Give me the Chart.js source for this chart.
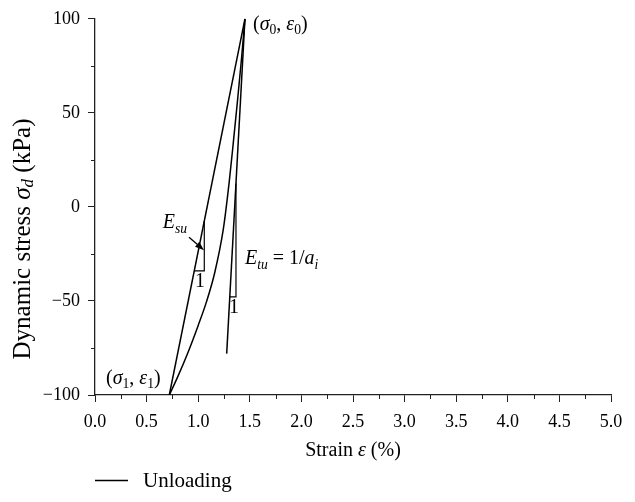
<!DOCTYPE html>
<html><head><meta charset="utf-8">
<script src="https://cdn.jsdelivr.net/npm/chart.js@4/dist/chart.umd.min.js"></script>
<style>html,body{margin:0;padding:0;background:#fff}</style>
</head><body>
<canvas id="c" width="635" height="502"></canvas>
<script>
// ---- data ----
const unloadStrain = [0.720, 0.800, 0.900, 1.000, 1.080, 1.160, 1.243, 1.300, 1.340, 1.380, 1.420, 1.453];
const unloadStress = [-100, -90.5, -77.5, -63.0, -50.5, -35.0, -12.0, 13.0, 34.0, 56.0, 79.0, 100];
const secantStrain = [0.720, 1.453];
const secantStress = [-100, 100];
const tangentStrain = [1.276, 1.453];
const tangentStress = [-78, 100];
const esuTriStrain = [0.962, 1.059, 1.059];
const esuTriStress = [-34, -34, -7.5];
const etuTriStrain = [1.306, 1.366, 1.366];
const etuTriStress = [-47.8, -47.8, 12.5];
const arrowStrain = [0.911, 1.056];
const arrowStress = [-16.1, -23.0];
const xMajorTicks = [0, 0.5, 1, 1.5, 2, 2.5, 3, 3.5, 4, 4.5, 5];
const yMajorTicks = [-100, -50, 0, 50, 100];
const xMinorStep = 0.25;
const yMinorStep = 25;
const seriesLabel = 'Unloading';
const xTitle = [['Strain ', 'n'], ['ε', 'i'], [' (%)', 'n']];
const yTitle = [['Dynamic stress ', 'n'], ['σ', 'i'], ['d', 'isub'], [' (kPa)', 'n']];
const annotations = [
  {segs: [['(', 'n'], ['σ', 'i'], ['0', 'sub'], [', ', 'n'], ['ε', 'i'], ['0', 'sub'], [')', 'n']], x: 1.531, y: 94.2, align: 'left'},
  {segs: [['(', 'n'], ['σ', 'i'], ['1', 'sub'], [', ', 'n'], ['ε', 'i'], ['1', 'sub'], [')', 'n']], x: 0.107, y: -94.2, align: 'left'},
  {segs: [['E', 'i'], ['su', 'isub']], x: 0.656, y: -11.3, align: 'left'},
  {segs: [['1', 'n']], x: 1.017, y: -42.8, align: 'center'},
  {segs: [['E', 'i'], ['tu', 'isub'], [' = 1/', 'n'], ['a', 'i'], ['i', 'isub']], x: 1.453, y: -30.5, align: 'left'},
  {segs: [['1', 'n']], x: 1.347, y: -56.6, align: 'center'}
];

const FAM = '"Liberation Serif", "DejaVu Serif", serif';
const INK = '#000';
const AXIS = '#222';

function pts(xs, ys) { return xs.map((x, i) => ({x: x, y: ys[i]})); }

function fontFor(style, size) {
  const sub = style === 'sub' || style === 'isub';
  const it = style === 'i' || style === 'isub';
  return (it ? 'italic ' : '') + (sub ? size * 0.68 : size) + 'px ' + FAM;
}
function richWidth(ctx, segs, size) {
  let w = 0;
  for (const [t, s] of segs) { ctx.font = fontFor(s, size); w += ctx.measureText(t).width; }
  return w;
}
function drawRich(ctx, segs, x, y, size, align) {
  const w = richWidth(ctx, segs, size);
  let cx = align === 'center' ? x - w / 2 : x;
  ctx.textAlign = 'left';
  for (const [t, s] of segs) {
    ctx.font = fontFor(s, size);
    const sub = s === 'sub' || s === 'isub';
    ctx.fillText(t, cx, y + (sub ? size * 0.22 : 0));
    cx += ctx.measureText(t).width;
  }
}

const extras = {
  id: 'extras',
  afterDraw(chart) {
    const ctx = chart.ctx;
    const xs = chart.scales.x, ys = chart.scales.y;
    const ca = chart.chartArea;
    ctx.save();
    // minor ticks
    ctx.strokeStyle = AXIS; ctx.lineWidth = 1;
    ctx.beginPath();
    for (let v = xs.min; v <= xs.max + 1e-9; v += xMinorStep) {
      if (xMajorTicks.some(m => Math.abs(m - v) < 1e-9)) continue;
      const px = Math.round(xs.getPixelForValue(v)) + 0.5;
      ctx.moveTo(px, ca.bottom); ctx.lineTo(px, ca.bottom + 4);
    }
    for (let v = ys.min; v <= ys.max + 1e-9; v += yMinorStep) {
      if (yMajorTicks.some(m => Math.abs(m - v) < 1e-9)) continue;
      const py = Math.round(ys.getPixelForValue(v)) + 0.5;
      ctx.moveTo(ca.left, py); ctx.lineTo(ca.left - 4, py);
    }
    ctx.stroke();

    // arrow
    ctx.strokeStyle = INK; ctx.fillStyle = INK; ctx.lineWidth = 1.3;
    const ax0 = xs.getPixelForValue(arrowStrain[0]), ay0 = ys.getPixelForValue(arrowStress[0]);
    const ax1 = xs.getPixelForValue(arrowStrain[1]), ay1 = ys.getPixelForValue(arrowStress[1]);
    const ang = Math.atan2(ay1 - ay0, ax1 - ax0);
    const hl = 9, hw = 3.2;
    ctx.beginPath(); ctx.moveTo(ax0, ay0);
    ctx.lineTo(ax1 - hl * Math.cos(ang), ay1 - hl * Math.sin(ang)); ctx.stroke();
    ctx.beginPath();
    ctx.moveTo(ax1, ay1);
    ctx.lineTo(ax1 - hl * Math.cos(ang) + hw * Math.sin(ang), ay1 - hl * Math.sin(ang) - hw * Math.cos(ang));
    ctx.lineTo(ax1 - hl * Math.cos(ang) - hw * Math.sin(ang), ay1 - hl * Math.sin(ang) + hw * Math.cos(ang));
    ctx.closePath(); ctx.fill();

    // annotations
    ctx.fillStyle = INK; ctx.textBaseline = 'alphabetic';
    for (const a of annotations) {
      drawRich(ctx, a.segs, xs.getPixelForValue(a.x), ys.getPixelForValue(a.y), 20, a.align);
    }

    // axis titles
    ctx.textBaseline = 'middle';
    drawRich(ctx, xTitle, (ca.left + ca.right) / 2, 451, 20, 'center');
    ctx.save();
    ctx.translate(23, 239);
    ctx.rotate(-Math.PI / 2);
    drawRich(ctx, yTitle, 0, 0, 25, 'center');
    ctx.restore();

    // legend
    ctx.strokeStyle = INK; ctx.lineWidth = 1.3;
    ctx.beginPath(); ctx.moveTo(95, 480.5); ctx.lineTo(128, 480.5); ctx.stroke();
    ctx.textBaseline = 'middle';
    drawRich(ctx, [[seriesLabel, 'n']], 143, 481, 21, 'left');
    ctx.restore();
  }
};

const lineDS = (label, xs, ys, w, extra) => Object.assign({
  label: label, data: pts(xs, ys), showLine: true, pointRadius: 0,
  borderColor: INK, backgroundColor: INK, borderWidth: w, fill: false
}, extra || {});

new Chart(document.getElementById('c'), {
  type: 'scatter',
  data: {
    datasets: [
      lineDS(seriesLabel, unloadStrain, unloadStress, 1.5, {cubicInterpolationMode: 'monotone'}),
      lineDS('secant', secantStrain, secantStress, 1.5),
      lineDS('tangent', tangentStrain, tangentStress, 1.5),
      lineDS('Esu', esuTriStrain, esuTriStress, 1.2),
      lineDS('Etu', etuTriStrain, etuTriStress, 1.2)
    ]
  },
  options: {
    responsive: false,
    devicePixelRatio: 1,
    animation: false,
    layout: {padding: {top: 16, right: 24, left: 0, bottom: 0}},
    plugins: {legend: {display: false}, tooltip: {enabled: false}},
    scales: {
      x: {
        type: 'linear', min: 0, max: 5,
        afterFit: s => { s.height = 107; },
        afterBuildTicks: s => { s.ticks = xMajorTicks.map(v => ({value: v})); },
        ticks: {color: INK, font: {family: FAM, size: 18}, padding: 9,
                callback: v => Number(v).toFixed(1), maxRotation: 0, autoSkip: false},
        grid: {drawOnChartArea: false, drawTicks: true, tickLength: 7, tickColor: AXIS, tickWidth: 1},
        border: {display: true, color: AXIS, width: 1.3}
      },
      y: {
        type: 'linear', min: -100, max: 100,
        afterFit: s => { s.width = 95; },
        afterBuildTicks: s => { s.ticks = yMajorTicks.map(v => ({value: v})); },
        ticks: {color: INK, font: {family: FAM, size: 18}, padding: 8,
                callback: v => String(v).replace('-', '\u2212'), autoSkip: false},
        grid: {drawOnChartArea: false, drawTicks: true, tickLength: 7, tickColor: AXIS, tickWidth: 1},
        border: {display: true, color: AXIS, width: 1.3}
      }
    }
  },
  plugins: [extras]
});
</script>
</body></html>
